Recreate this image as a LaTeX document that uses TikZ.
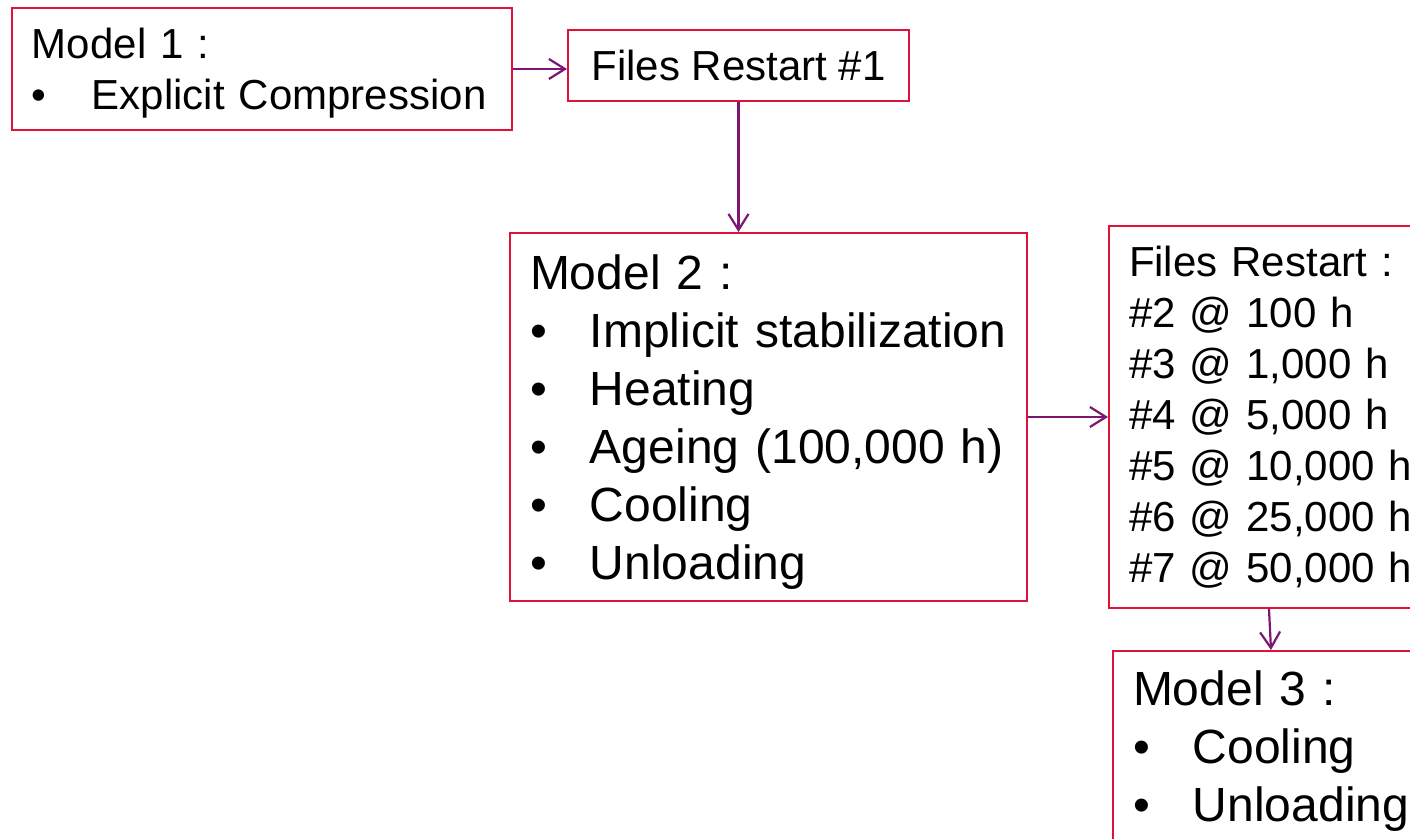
\documentclass[tikz,border=0pt]{standalone}
\usepackage{fontspec}
\setmainfont{Liberation Sans}
\usetikzlibrary{arrows.meta}
\definecolor{boxred}{RGB}{222,18,58}
\definecolor{linkpurple}{RGB}{125,22,112}
\newcommand{\bitem}[1]{\mbox{\makebox[30pt][l]{•}#1}}

\begin{document}
\begin{tikzpicture}[x=0.5pt,y=-0.5pt,
small/.style={draw=boxred, line width=1pt, anchor=north west, align=left, inner xsep=10pt, font=\fontsize{21}{25.5}\selectfont},
large/.style={draw=boxred, line width=1pt, anchor=north west, align=left, inner xsep=10pt, font=\fontsize{24}{29}\selectfont},
link/.style={draw=linkpurple, line width=1.1pt, -{Straight Barb[length=8pt,width=10pt]}}
]
\useasboundingbox (0,0) rectangle (1410,839);
\clip (0,0) rectangle (1410,839);

\node[small, text width=230pt, minimum height=61pt](model_one) at (11,7){\rule{0pt}{19pt}Model 1 :\\\bitem{Explicit Compression}};
\node[small, minimum width=170.5pt, minimum height=35.5pt](restart_one) at (567,29){Files Restart \#1};

\node[large, text width=238.5pt, minimum height=184pt](model_two) at (509,232){\rule{0pt}{22pt}Model 2 :\\\bitem{Implicit stabilization}\\\bitem{Heating}\\\bitem{Ageing (100,000 h)}\\\bitem{Cooling}\\\bitem{Unloading}};
\node[small, text width=140pt, minimum height=191pt](restart_list) at (1108,225){\mbox{Files Restart :}\\\mbox{\#2 @ 100 h}\\\mbox{\#3 @ 1,000 h}\\\mbox{\#4 @ 5,000 h}\\\mbox{\#5 @ 10,000 h}\\\mbox{\#6 @ 25,000 h}\\\mbox{\#7 @ 50,000 h}};

\node[large, text width=138pt, inner ysep=10pt](model_three) at (1112,650){Model 3 :\\\bitem{Cooling}\\\bitem{Unloading}};

\draw[link] (model_one.east) -- (model_one.east -| restart_one.west);
\draw[link] (restart_one.south) -- (restart_one.south |- model_two.north);
\draw[link] (model_two.east) -- (restart_list.west);
\draw[link] (restart_list.south) -- (model_three.north);
\end{tikzpicture}
\end{document}
